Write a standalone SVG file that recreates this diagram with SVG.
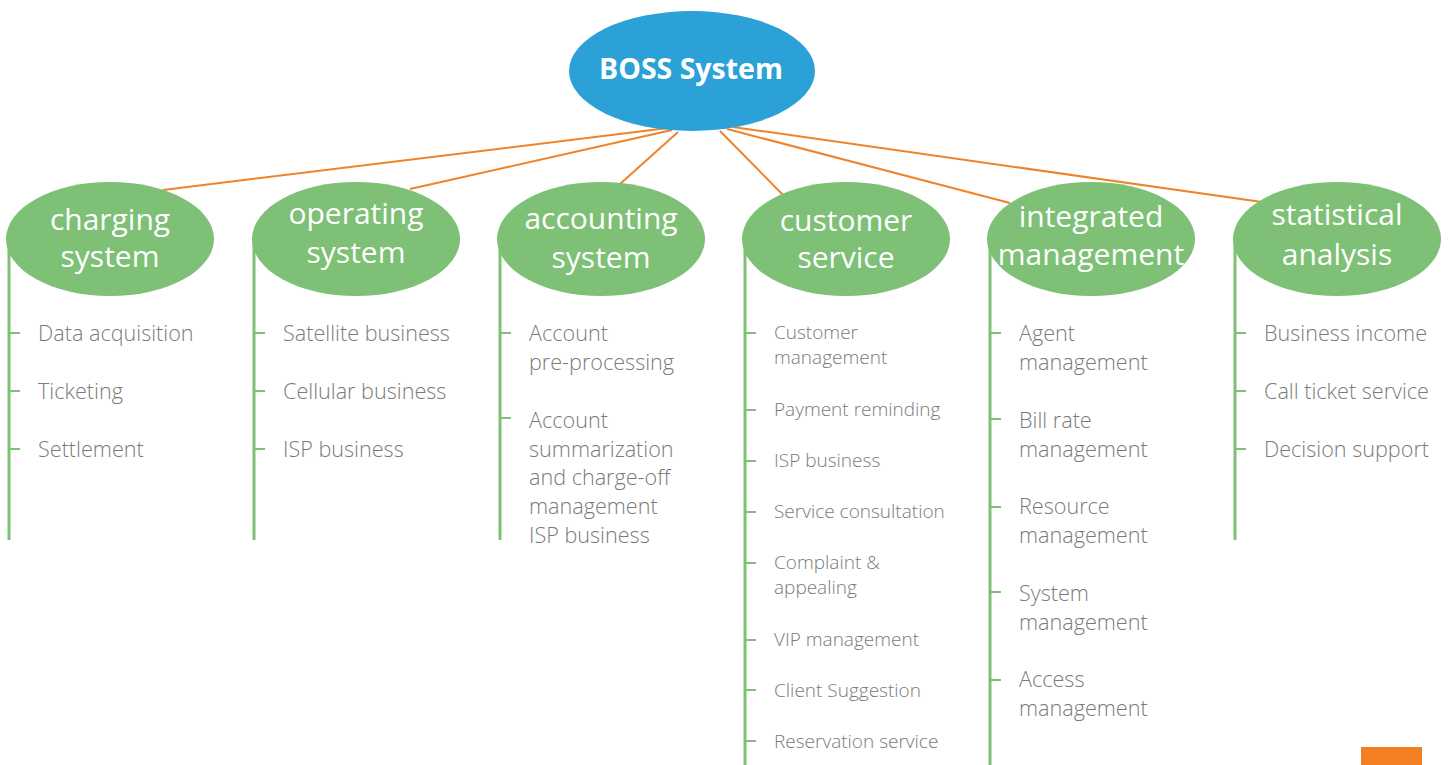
<svg xmlns="http://www.w3.org/2000/svg" width="1450" height="765" viewBox="0 0 1450 765">
<style>
.hub{fill:#2CA1D8}
.cat{fill:#7DC076}
.conn{stroke:#F0822A;stroke-width:2;fill:none}
.stem{stroke:#7DC076;stroke-width:3;fill:none}
.tick{stroke:#7DC076;stroke-width:2;fill:none}
.hubt{font-family:"Open Sans","Liberation Sans",sans-serif;font-weight:bold;font-size:28.5px;fill:#fff;text-anchor:middle}
.catt{font-family:"Open Sans","Liberation Sans",sans-serif;font-size:30px;fill:#fff;text-anchor:middle}
.item{font-family:"Open Sans","Liberation Sans",sans-serif;font-weight:300;font-size:21.6px;fill:#7a7a7a}
.small{font-size:19px}
</style>
<rect width="1450" height="765" fill="#fff"/>
<g id="connectors">
<line class="conn" x1="668" y1="128" x2="163" y2="190"/>
<line class="conn" x1="672" y1="130" x2="410" y2="189"/>
<line class="conn" x1="678" y1="132" x2="620" y2="184"/>
<line class="conn" x1="720" y1="131" x2="783" y2="195"/>
<line class="conn" x1="727" y1="129" x2="1010" y2="203"/>
<line class="conn" x1="733" y1="127" x2="1262" y2="202"/>
</g>
<g id="boss">
<ellipse class="hub" cx="692" cy="71" rx="123" ry="60"/>
<text class="hubt" x="691" y="79">BOSS System</text>
</g>
<g id="charging">
<line class="stem" x1="9" y1="238" x2="9" y2="540"/>
<ellipse class="cat" cx="110" cy="239" rx="104" ry="57"/>
<text class="catt" x="110" y="230">charging</text>
<text class="catt" x="110" y="267">system</text>
<path class="tick" d="M9 333H20M9 391H20M9 449H20"/>
<text class="item" x="38" y="341">Data acquisition</text>
<text class="item" x="38" y="399">Ticketing</text>
<text class="item" x="38" y="457">Settlement</text>
</g>
<g id="operating">
<line class="stem" x1="254" y1="238" x2="254" y2="540"/>
<ellipse class="cat" cx="356" cy="239" rx="104" ry="57"/>
<text class="catt" x="356" y="224">operating</text>
<text class="catt" x="356" y="263">system</text>
<path class="tick" d="M254 333H265M254 391H265M254 449H265"/>
<text class="item" x="283" y="341">Satellite business</text>
<text class="item" x="283" y="399">Cellular business</text>
<text class="item" x="283" y="457">ISP business</text>
</g>
<g id="accounting">
<line class="stem" x1="500" y1="238" x2="500" y2="540"/>
<ellipse class="cat" cx="601" cy="239" rx="104" ry="57"/>
<text class="catt" x="601" y="229">accounting</text>
<text class="catt" x="601" y="268">system</text>
<path class="tick" d="M500 333H511M500 418H511"/>
<text class="item" x="529" y="341">Account</text>
<text class="item" x="529" y="370">pre-processing</text>
<text class="item" x="529" y="428">Account</text>
<text class="item" x="529" y="457">summarization</text>
<text class="item" x="529" y="485">and charge-off</text>
<text class="item" x="529" y="514">management</text>
<text class="item" x="529" y="543">ISP business</text>
</g>
<g id="customer">
<line class="stem" x1="745" y1="238" x2="745" y2="765"/>
<ellipse class="cat" cx="846" cy="239" rx="104" ry="57"/>
<text class="catt" x="846" y="231">customer</text>
<text class="catt" x="846" y="268">service</text>
<path class="tick" d="M745 333H756M745 410H756M745 461H756M745 512H756M745 563H756M745 640H756M745 690H756M745 741H756"/>
<text class="item small" x="774" y="339">Customer</text>
<text class="item small" x="774" y="364">management</text>
<text class="item small" x="774" y="416">Payment reminding</text>
<text class="item small" x="774" y="467">ISP business</text>
<text class="item small" x="774" y="518">Service consultation</text>
<text class="item small" x="774" y="569">Complaint &amp;</text>
<text class="item small" x="774" y="594">appealing</text>
<text class="item small" x="774" y="646">VIP management</text>
<text class="item small" x="774" y="697">Client Suggestion</text>
<text class="item small" x="774" y="748">Reservation service</text>
</g>
<g id="integrated">
<line class="stem" x1="990" y1="238" x2="990" y2="765"/>
<ellipse class="cat" cx="1091" cy="239" rx="104" ry="57"/>
<text class="catt" x="1091" y="227">integrated</text>
<text class="catt" x="1091" y="265">management</text>
<path class="tick" d="M990 333H1001M990 419H1001M990 507H1001M990 592H1001M990 680H1001"/>
<text class="item" x="1019" y="341">Agent</text>
<text class="item" x="1019" y="370">management</text>
<text class="item" x="1019" y="428">Bill rate</text>
<text class="item" x="1019" y="457">management</text>
<text class="item" x="1019" y="514">Resource</text>
<text class="item" x="1019" y="543">management</text>
<text class="item" x="1019" y="601">System</text>
<text class="item" x="1019" y="630">management</text>
<text class="item" x="1019" y="687">Access</text>
<text class="item" x="1019" y="716">management</text>
</g>
<g id="statistical">
<line class="stem" x1="1235" y1="238" x2="1235" y2="540"/>
<ellipse class="cat" cx="1337" cy="239" rx="104" ry="57"/>
<text class="catt" x="1337" y="225">statistical</text>
<text class="catt" x="1337" y="265">analysis</text>
<path class="tick" d="M1235 333H1246M1235 391H1246M1235 449H1246"/>
<text class="item" x="1264" y="341">Business income</text>
<text class="item" x="1264" y="399">Call ticket service</text>
<text class="item" x="1264" y="457">Decision support</text>
</g>
<rect x="1361" y="747" width="61" height="18" fill="#F28023"/>
</svg>
